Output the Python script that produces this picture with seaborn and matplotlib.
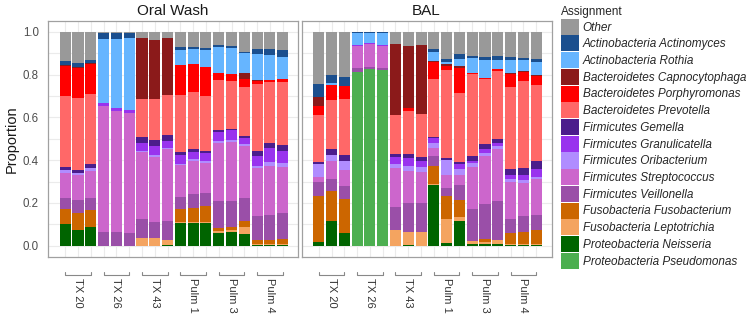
import pandas as pd
import matplotlib
matplotlib.use('Agg')
import matplotlib.pyplot as plt
from matplotlib.patches import Patch
from matplotlib.ticker import MultipleLocator
import seaborn as sns

panels = ['Oral Wash', 'BAL']
subjects = ['TX 20', 'TX 26', 'TX 43', 'Pulm 1', 'Pulm 3', 'Pulm 4']

# legend order (top of stack first)
taxa = ['Other', 'Actinobacteria Actinomyces', 'Actinobacteria Rothia',
        'Bacteroidetes Capnocytophaga', 'Bacteroidetes Porphyromonas',
        'Bacteroidetes Prevotella', 'Firmicutes Gemella', 'Firmicutes Granulicatella',
        'Firmicutes Oribacterium', 'Firmicutes Streptococcus', 'Firmicutes Veillonella',
        'Fusobacteria Fusobacterium', 'Fusobacteria Leptotrichia',
        'Proteobacteria Neisseria', 'Proteobacteria Pseudomonas']
colors = ['#999999', '#1b4f8e', '#66b5ff', '#8b1a1a', '#ff0000', '#ff6868',
          '#4b1d8c', '#9933ee', '#b08cff', '#cc66cc', '#9a4fa8', '#cc6600',
          '#f4a460', '#006400', '#4caf50']

# proportions per sample: 18 Oral Wash samples, then 18 BAL samples
other = [.139, .145, .132, .008, .008, .006, .031, .040, .028, .071, .070, .075, .061, .067, .093, .079, .083, .087,
         .246, .204, .210, 0, 0, 0, .056, .067, .062, .080, .129, .106, .113, .118, .114, .117, .121, .126]
actinomyces = [.018, .021, .016, .024, .028, .022, 0, 0, 0, .015, .013, .012, .009, .008, .008, .027, .028, .031,
               .059, .037, .044, .004, .004, .005, 0, 0, 0, .017, .013, .023, .012, .016, .018, .017, .011, .016]
rothia = [0, 0, 0, .303, .322, .340, 0, 0, 0, .071, .070, .078, .122, .121, .094, .120, .115, .105,
          0, .008, 0, .058, .051, .058, 0, 0, 0, .041, .008, .031, .070, .081, .044, .061, .051, .060]
capnocytophaga = [.005, .005, .005, 0, 0, 0, .282, .273, .269, 0, 0, 0, .003, 0, .028, .003, 0, 0,
                  .042, 0, 0, 0, 0, 0, .335, .291, .324, .004, .010, .011, 0, 0, 0, .004, .005, .005]
porphyromonas = [.138, .137, .137, 0, 0, 0, 0, 0, 0, .137, .129, .135, .030, .035, .034, .017, .009, .012,
                 .044, .072, .062, 0, 0, 0, 0, .013, 0, .081, .019, .117, .004, .008, .008, .058, .043, .042]
prevotella = [.330, .338, .327, 0, 0, 0, .178, .193, .186, .268, .268, .257, .232, .225, .231, .312, .287, .295,
              .216, .229, .262, 0, 0, 0, .179, .199, .200, .268, .410, .319, .382, .303, .316, .382, .405, .355]
gemella = [.014, .016, .019, 0, 0, 0, .028, .028, .028, .012, .011, .008, .011, .005, .007, .023, .023, .025,
           .013, .026, .026, 0, 0, 0, .016, .019, .018, .004, .011, .013, .022, .022, .018, .031, .035, .035]
granulicatella = [.003, 0, 0, .014, .013, .011, .040, .044, .031, .042, .035, .040, .043, .043, .031, .047, .062, .057,
                  0, 0, 0, .005, .004, .004, .031, .039, .027, .024, 0, .023, .010, .017, .016, .020, .022, .039]
oribacterium = [.013, .005, .015, 0, 0, 0, .004, .008, .005, .006, .008, .007, .010, .010, .008, .008, .021, .019,
                .058, .028, .044, 0, 0, 0, .019, .023, .023, .026, .067, .024, .020, .016, .016, .011, .013, .012]
streptococcus = [.115, .120, .125, .585, .564, .560, .314, .303, .335, .148, .156, .140, .272, .277, .242, .225, .229, .218,
                 .024, .083, .073, .104, .106, .104, .182, .148, .148, .036, .062, .050, .197, .223, .241, .176, .155, .164]
veillonella = [.052, .062, .057, .066, .065, .061, .086, .074, .090, .060, .062, .063, .123, .122, .109, .114, .117, .121,
               .066, .058, .062, .016, .011, .010, .109, .136, .133, .044, .039, .071, .147, .166, .184, .062, .075, .070]
fusobacterium = [.073, .075, .080, 0, 0, 0, 0, 0, 0, .060, .067, .075, .017, .014, .026, .017, .018, .023,
                 .215, .140, .156, 0, 0, 0, 0, 0, 0, .086, .106, .078, 0, .013, 0, .052, .055, .066]
leptotrichia = [0, 0, 0, 0, 0, 0, .037, .037, .025, .003, .004, .003, .008, .008, .036, .004, .005, .004,
                0, 0, 0, 0, 0, 0, .073, .060, .065, .006, .115, .016, .013, .009, .017, .004, .004, .004]
neisseria = [.100, .076, .087, 0, 0, 0, 0, 0, .003, .107, .107, .107, .059, .065, .053, .004, .003, .003,
             .017, .115, .061, 0, 0, 0, 0, .005, 0, .283, .011, .118, .010, .008, .008, .005, .005, .006]
pseudomonas = [0] * 18 + [0, 0, 0, .813, .824, .819] + [0] * 12

series = [other, actinomyces, rothia, capnocytophaga, porphyromonas, prevotella,
          gemella, granulicatella, oribacterium, streptococcus, veillonella,
          fusobacterium, leptotrichia, neisseria, pseudomonas]

rows = []
for name, vals in zip(taxa, series):
    for i, v in enumerate(vals):
        rows.append({'panel': panels[i // 18], 'pos': i % 18, 'taxon': name, 'value': v})
df = pd.DataFrame(rows)
pal = dict(zip(taxa, colors))

sns.set_theme(style='white')
plt.rcParams['font.family'] = ['Liberation Sans', 'DejaVu Sans']

fig = plt.figure(figsize=(7.51, 3.19), dpi=100)
ax1 = fig.add_axes([48 / 751, 1 - 256.5 / 319, 250 / 751, 235.5 / 319])
ax2 = fig.add_axes([301.5 / 751, 1 - 256.5 / 319, 250 / 751, 235.5 / 319])

for ax, panel in zip([ax1, ax2], panels):
    sub = df[df['panel'] == panel]
    sns.histplot(data=sub, x='pos', weights='value', hue='taxon', hue_order=taxa,
                 palette=pal, multiple='stack', discrete=True, shrink=0.87,
                 linewidth=0, alpha=1, legend=False, ax=ax)
    ax.set_xlim(-1.35, 18.2)
    ax.set_ylim(-0.05, 1.05)
    ax.set_xticks(range(18))
    ax.set_xticklabels([])
    ax.yaxis.set_major_locator(MultipleLocator(0.2))
    ax.yaxis.set_minor_locator(MultipleLocator(0.1))
    ax.set_axisbelow(True)
    ax.grid(which='both', color='#ebebeb', lw=0.8)
    ax.tick_params(axis='x', length=0)
    ax.tick_params(axis='y', which='minor', length=0)
    for s in ax.spines.values():
        s.set_color('#a0a0a0')
        s.set_linewidth(0.9)
    ax.set_xlabel('')
    ax.set_ylabel('')
    ax.set_title(panel, fontsize=11, pad=4, color='#1a1a1a')

    # group brackets under each subject
    trans = ax.get_xaxis_transform()
    for g, name in enumerate(subjects):
        x0, x1 = g * 3, g * 3 + 2
        ax.plot([x0, x0, x1, x1], [-0.067, -0.079, -0.079, -0.067], transform=trans,
                clip_on=False, color='#888888', lw=0.8)
        ax.text(g * 3 + 1, -0.093, name, transform=trans, rotation=270,
                ha='center', va='top', fontsize=8, color='#333333')

ax1.set_yticks([0, 0.2, 0.4, 0.6, 0.8, 1.0])
ax1.set_yticklabels(['0.0', '0.2', '0.4', '0.6', '0.8', '1.0'])
ax1.tick_params(axis='y', length=3.5, width=0.8, color='#a0a0a0', labelsize=8.3,
                labelcolor='#4d4d4d', pad=3)
ax1.set_ylabel('Proportion', fontsize=10.5, color='#1a1a1a', labelpad=3)
ax2.tick_params(axis='y', length=0, labelleft=False)

handles = [Patch(facecolor=c, edgecolor='none') for c in colors]
fig.legend(handles, taxa, loc='upper left', bbox_to_anchor=(561 / 751, 1 - 6 / 319),
           frameon=False, title='Assignment', prop={'style': 'italic', 'size': 8.5},
           title_fontsize=8.5, handlelength=1.49, handleheight=1.71, labelspacing=0.06,
           handletextpad=0.34, borderpad=0, borderaxespad=0, alignment='left')

fig.savefig('out.png', dpi=100)
